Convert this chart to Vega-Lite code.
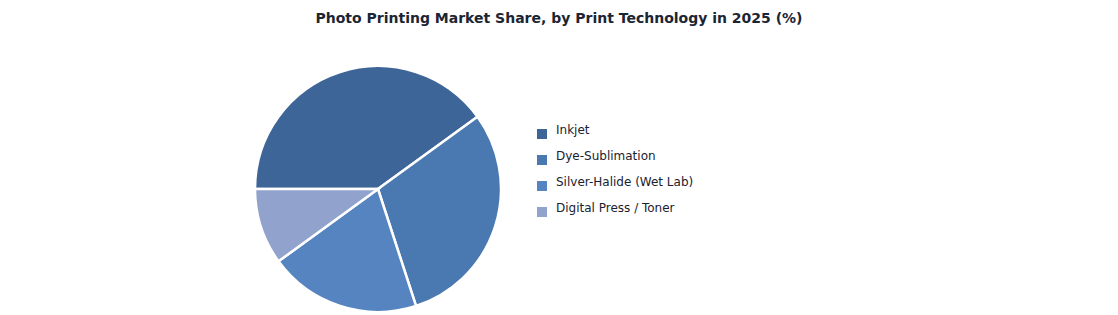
{
  "$schema": "https://vega.github.io/schema/vega-lite/v6.json",
  "autosize": "none",
  "width": 246,
  "height": 246,
  "padding": {"left": 255, "top": 66, "right": 617, "bottom": 3},
  "background": "white",
  "title": {
    "text": "Photo Printing Market Share, by Print Technology in 2025 (%)",
    "font": "DejaVu Sans",
    "fontSize": 14,
    "fontWeight": "bold",
    "color": "#1c2533",
    "anchor": "middle",
    "frame": "group",
    "dx": 181,
    "offset": 35
  },
  "data": {
    "values": [
      {"tech": "Inkjet", "share": 40, "rank": 1},
      {"tech": "Dye-Sublimation", "share": 30, "rank": 2},
      {"tech": "Silver-Halide (Wet Lab)", "share": 20, "rank": 3},
      {"tech": "Digital Press / Toner", "share": 10, "rank": 4}
    ]
  },
  "mark": {"type": "arc", "stroke": "white", "strokeWidth": 2.5},
  "encoding": {
    "theta": {"field": "share", "type": "quantitative", "stack": true, "scale": {"range": [-1.5708, 4.7124]}},
    "order": {"field": "rank", "type": "quantitative", "sort": "ascending"},
    "color": {
      "field": "tech",
      "type": "nominal",
      "sort": null,
      "scale": {
        "domain": ["Inkjet", "Dye-Sublimation", "Silver-Halide (Wet Lab)", "Digital Press / Toner"],
        "range": ["#3e6597", "#4a78b0", "#5584c0", "#91a3cc"]
      },
      "legend": {
        "title": null,
        "orient": "none",
        "legendX": 281,
        "legendY": 62,
        "symbolType": "square",
        "symbolSize": 100,
        "symbolStrokeWidth": 0,
        "labelFont": "DejaVu Sans",
        "labelFontSize": 12,
        "labelColor": "#1a2230",
        "labelBaseline": "alphabetic",
        "labelOffset": 8,
        "rowPadding": 11
      }
    }
  }
}
